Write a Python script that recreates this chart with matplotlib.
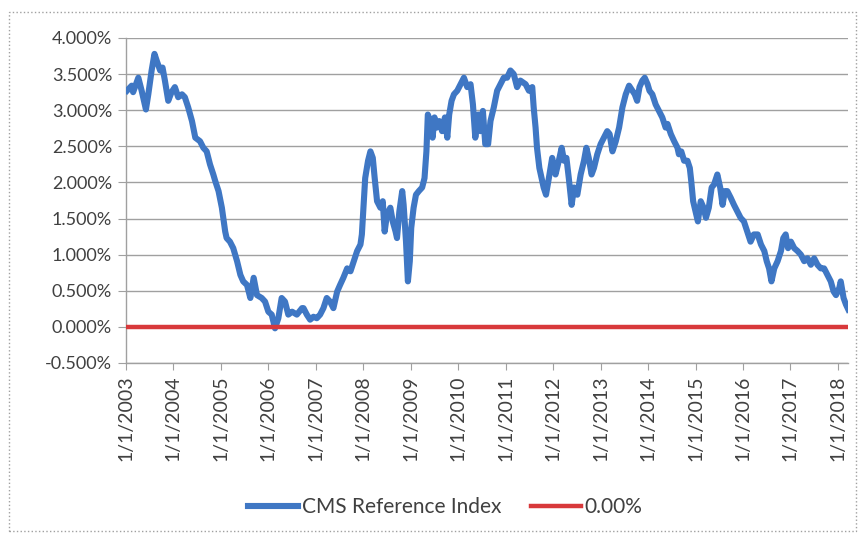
import matplotlib
matplotlib.use("Agg")
import matplotlib.pyplot as plt
from matplotlib.patches import Rectangle
from matplotlib.ticker import FixedLocator, FuncFormatter

# CMS reference index (decimal year, percent)
years = [
    2003.02, 2003.12, 2003.15, 2003.26, 2003.33, 2003.42, 2003.47, 2003.54, 2003.60, 2003.65,
    2003.72, 2003.77, 2003.82, 2003.89, 2003.96, 2004.03, 2004.10, 2004.18, 2004.24, 2004.31,
    2004.39, 2004.46, 2004.56, 2004.63, 2004.70, 2004.77, 2004.84, 2004.88, 2004.95, 2005.02,
    2005.09, 2005.12, 2005.19, 2005.26, 2005.34, 2005.41, 2005.47, 2005.55, 2005.62, 2005.69,
    2005.76, 2005.86, 2005.93, 2006.00, 2006.07, 2006.14, 2006.21, 2006.28, 2006.35, 2006.42,
    2006.50, 2006.60, 2006.71, 2006.74, 2006.81, 2006.88, 2006.95, 2007.02, 2007.09, 2007.16,
    2007.23, 2007.30, 2007.37, 2007.45, 2007.51, 2007.58, 2007.66, 2007.73, 2007.80, 2007.87,
    2007.94, 2007.97, 2008.01, 2008.04, 2008.10, 2008.15, 2008.20, 2008.24, 2008.29, 2008.36,
    2008.41, 2008.45, 2008.50, 2008.57, 2008.62, 2008.68, 2008.71, 2008.76, 2008.82, 2008.85,
    2008.90, 2008.94, 2008.98, 2009.01, 2009.06, 2009.11, 2009.17, 2009.24, 2009.29, 2009.33,
    2009.36, 2009.41, 2009.46, 2009.50, 2009.55, 2009.60, 2009.66, 2009.72, 2009.77, 2009.81,
    2009.86, 2009.91, 2009.98, 2010.05, 2010.12, 2010.19, 2010.26, 2010.31, 2010.36, 2010.42,
    2010.47, 2010.52, 2010.57, 2010.63, 2010.68, 2010.75, 2010.82, 2010.89, 2010.96, 2011.03,
    2011.10, 2011.17, 2011.24, 2011.31, 2011.42, 2011.49, 2011.56, 2011.59, 2011.63, 2011.66,
    2011.71, 2011.77, 2011.80, 2011.85, 2011.91, 2011.98, 2012.05, 2012.12, 2012.18, 2012.23,
    2012.28, 2012.33, 2012.39, 2012.44, 2012.51, 2012.58, 2012.65, 2012.70, 2012.75, 2012.81,
    2012.86, 2012.93, 2013.00, 2013.07, 2013.14, 2013.19, 2013.25, 2013.32, 2013.39, 2013.46,
    2013.53, 2013.60, 2013.67, 2013.72, 2013.77, 2013.82, 2013.88, 2013.93, 2013.99, 2014.03,
    2014.09, 2014.16, 2014.23, 2014.30, 2014.37, 2014.41, 2014.48, 2014.55, 2014.62, 2014.65,
    2014.70, 2014.76, 2014.83, 2014.88, 2014.91, 2014.95, 2015.00, 2015.05, 2015.11, 2015.17,
    2015.22, 2015.28, 2015.34, 2015.39, 2015.46, 2015.52, 2015.57, 2015.62, 2015.67, 2015.74,
    2015.81, 2015.88, 2015.95, 2016.02, 2016.09, 2016.16, 2016.23, 2016.31, 2016.38, 2016.45,
    2016.50, 2016.55, 2016.60, 2016.66, 2016.73, 2016.80, 2016.85, 2016.90, 2016.95, 2017.01,
    2017.08, 2017.15, 2017.22, 2017.29, 2017.36, 2017.43, 2017.50, 2017.57, 2017.64, 2017.71,
    2017.78, 2017.85, 2017.91, 2017.96, 2018.03, 2018.06, 2018.12, 2018.17, 2018.22,
]
cms_index = [
    3.27, 3.34, 3.25, 3.45, 3.27, 3.01, 3.22, 3.55, 3.78, 3.68,
    3.55, 3.59, 3.41, 3.13, 3.25, 3.32, 3.18, 3.22, 3.18, 3.04,
    2.85, 2.62, 2.57, 2.48, 2.43, 2.25, 2.11, 2.02, 1.88, 1.65,
    1.32, 1.23, 1.18, 1.09, 0.91, 0.72, 0.63, 0.58, 0.40, 0.68,
    0.44, 0.40, 0.35, 0.21, 0.17, -0.02, 0.12, 0.40, 0.35, 0.17,
    0.21, 0.17, 0.26, 0.26, 0.17, 0.10, 0.14, 0.12, 0.17, 0.26,
    0.40, 0.35, 0.26, 0.49, 0.58, 0.68, 0.81, 0.77, 0.91, 1.05,
    1.14, 1.28, 1.74, 2.06, 2.30, 2.43, 2.34, 2.06, 1.74, 1.65,
    1.74, 1.32, 1.56, 1.65, 1.46, 1.32, 1.23, 1.60, 1.88, 1.69,
    1.18, 0.63, 0.91, 1.37, 1.65, 1.83, 1.88, 1.93, 2.06, 2.43,
    2.94, 2.85, 2.62, 2.90, 2.76, 2.85, 2.71, 2.90, 2.62, 2.94,
    3.13, 3.22, 3.27, 3.36, 3.45, 3.32, 3.36, 3.08, 2.62, 2.94,
    2.71, 2.99, 2.53, 2.53, 2.85, 3.04, 3.27, 3.36, 3.45, 3.45,
    3.55, 3.50, 3.32, 3.41, 3.36, 3.27, 3.32, 3.04, 2.76, 2.48,
    2.20, 2.02, 1.93, 1.83, 2.06, 2.34, 2.11, 2.30, 2.48, 2.30,
    2.34, 2.06, 1.69, 1.93, 1.83, 2.11, 2.30, 2.48, 2.34, 2.11,
    2.20, 2.39, 2.53, 2.62, 2.71, 2.67, 2.43, 2.57, 2.76, 3.04,
    3.22, 3.34, 3.27, 3.22, 3.13, 3.32, 3.41, 3.45, 3.36, 3.27,
    3.22, 3.08, 2.99, 2.90, 2.76, 2.81, 2.67, 2.57, 2.48, 2.39,
    2.43, 2.30, 2.30, 2.20, 2.02, 1.74, 1.60, 1.46, 1.74, 1.65,
    1.51, 1.65, 1.93, 1.97, 2.11, 1.93, 1.69, 1.88, 1.88, 1.79,
    1.69, 1.60, 1.51, 1.46, 1.32, 1.18, 1.28, 1.28, 1.14, 1.05,
    0.91, 0.81, 0.63, 0.81, 0.91, 1.05, 1.23, 1.28, 1.09, 1.18,
    1.09, 1.05, 1.00, 0.91, 0.95, 0.86, 0.95, 0.86, 0.81, 0.81,
    0.72, 0.63, 0.49, 0.44, 0.54, 0.63, 0.40, 0.31, 0.24,
]
zero_level = [0.0, 0.0]
zero_years = [2003.0, 2018.22]
tick_years = list(range(2003, 2019))
y_ticks = [-0.5, 0.0, 0.5, 1.0, 1.5, 2.0, 2.5, 3.0, 3.5, 4.0]

plt.rcParams['font.family'] = ['Lato', 'DejaVu Sans']

fig = plt.figure(figsize=(8.63, 5.35), dpi=100)
ax = fig.add_axes([0.146, 0.3215, 0.837, 0.6075])

ax.plot(years, cms_index, color='#3F77C4', linewidth=4.4, solid_joinstyle='round',
        label='CMS Reference Index', zorder=3)
ax.plot(zero_years, zero_level, color='#D8393B', linewidth=3.2, label='0.00%', zorder=4)

ax.set_xlim(2003.0, 2018.22)
ax.set_ylim(-0.5, 4.0)
ax.yaxis.set_major_locator(FixedLocator(y_ticks))
ax.yaxis.set_major_formatter(FuncFormatter(lambda v, p: f"{v:.3f}%"))
ax.xaxis.set_major_locator(FixedLocator(tick_years))
ax.set_xticklabels([f"1/1/{y}" for y in tick_years], rotation=90)

ax.grid(axis='y', color='#A0A0A0', linewidth=1.0)
ax.set_axisbelow(True)
for side in ['top', 'right']:
    ax.spines[side].set_visible(False)
for side in ['left', 'bottom']:
    ax.spines[side].set_color('#A0A0A0')
    ax.spines[side].set_linewidth(1.0)
ax.tick_params(axis='y', length=6, color='#A0A0A0', labelsize=13, labelcolor='#404040', pad=4)
ax.tick_params(axis='x', length=5, color='#A0A0A0', labelsize=14, labelcolor='#404040', pad=4)

fig.legend(loc='center', bbox_to_anchor=(0.516, 0.052), ncol=2, frameon=False,
           fontsize=15, handlelength=2.4, columnspacing=1.4, handletextpad=0.2,
           labelcolor='#404040')

fig.patches.append(Rectangle((9 / 863, 4 / 535), 847 / 863, 519 / 535,
                             transform=fig.transFigure, fill=False,
                             edgecolor='#A0A0A0', linewidth=1.0, linestyle=':'))

fig.savefig("out.png", dpi=100)
